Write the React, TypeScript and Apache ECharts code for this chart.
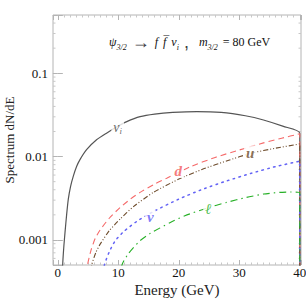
import React, { useEffect, useRef } from "react";
import * as echarts from "echarts";

// Energies (GeV) and spectra dN/dE
const NUI_E = [0.7, 0.8, 1.0, 1.19, 1.45, 1.73, 2.1, 2.56, 3.1, 3.66, 4.75, 6.4, 8.05, 9.7, 11.4, 13.6, 16, 19, 23, 27, 31, 34, 37.3, 40, 40];
const NUI_V = [0.0002, 0.0005, 0.00085, 0.00124, 0.002, 0.00308, 0.00437, 0.00583, 0.0076, 0.0092, 0.0121, 0.0159, 0.0191, 0.0226, 0.0263, 0.0302, 0.0324, 0.0339, 0.0347, 0.0339, 0.0309, 0.0275, 0.023, 0.0191, 0.00001];

const D_E = [4.6, 4.9, 5.5, 6.2, 7, 8.5, 10.3, 12, 13.6, 16, 18, 22, 26, 30, 34, 37, 40, 40];
const D_V = [0.0003, 0.0005, 0.00076, 0.00105, 0.00132, 0.00182, 0.00245, 0.00309, 0.00372, 0.00468, 0.0055, 0.00759, 0.00977, 0.012, 0.0146, 0.0166, 0.0188, 0.00001];

const U_E = [5.3, 5.6, 6.3, 7, 8.5, 10.3, 12.5, 15.8, 20, 24, 28, 32, 36, 40, 40];
const U_V = [0.0003, 0.0005, 0.00071, 0.00089, 0.00129, 0.00178, 0.00251, 0.00372, 0.00537, 0.00708, 0.00891, 0.011, 0.0126, 0.0142, 0.00001];

const NU_E = [7.4, 7.7, 8.5, 9.5, 10.9, 13, 15.8, 20, 24, 28, 32, 36, 40, 40];
const NU_V = [0.0003, 0.0005, 0.00072, 0.00098, 0.00126, 0.00166, 0.00219, 0.00309, 0.00407, 0.00513, 0.00631, 0.00759, 0.0088, 0.00001];

const L_E = [10.3, 10.6, 11.5, 12.5, 13.6, 15.3, 18.6, 21, 24.6, 27.9, 31.2, 34, 36.7, 38.5, 40, 40];
const L_V = [0.0003, 0.0005, 0.00066, 0.00081, 0.00098, 0.0012, 0.00162, 0.00195, 0.0024, 0.00282, 0.00324, 0.00355, 0.00372, 0.00376, 0.00367, 0.00001];

// curve labels
const LABEL_E = [9.9, 19.9, 31.8, 15.3, 24.9];
const LABEL_V = [0.0221, 0.0068, 0.0111, 0.00186, 0.00234];
const LABEL_TEXT = ["{nu|ν}{sub|i}", "{d|d}", "{u|u}", "{v|ν}", "{l|ℓ}"];

const X_MIN = -0.8;
const X_MAX = 40.2;
const Y_MIN = 0.0005;
const Y_MAX = 0.5;

const MINOR_Y: number[] = [];
for (let n = -4; n <= -1; n++) {
  for (let k = 2; k <= 9; k++) {
    const v = k * Math.pow(10, n);
    if (v > Y_MIN && v < Y_MAX) MINOR_Y.push(v);
  }
}

const SERIF = "'Liberation Serif', 'DejaVu Serif', serif";
const FRAME = "#b4b4b4";

function pairs(xs: number[], ys: number[]) {
  return xs.map((x, i) => [x, ys[i]]);
}

export default function App() {
  const ref = useRef<HTMLDivElement>(null);

  useEffect(() => {
    if (!ref.current) return;
    const chart = echarts.init(ref.current, null, { renderer: "svg" });

    const lineBase = {
      type: "line",
      showSymbol: false,
      symbol: "none",
      smooth: 0.2,
      clip: true,
      z: 3,
    };

    const labelRich = {
      nu: { fontFamily: SERIF, fontStyle: "italic", fontWeight: "normal", fontSize: 14, color: "#444" },
      sub: { fontFamily: SERIF, fontStyle: "italic", fontWeight: "normal", fontSize: 9, color: "#444", verticalAlign: "bottom", padding: [6, 0, 0, 0] },
      d: { fontFamily: SERIF, fontStyle: "italic", fontWeight: "bold", fontSize: 15, color: "#f25a5a" },
      u: { fontFamily: SERIF, fontStyle: "italic", fontWeight: "bold", fontSize: 15, color: "#6e4c2c" },
      v: { fontFamily: SERIF, fontStyle: "italic", fontWeight: "bold", fontSize: 15, color: "#5a5af5" },
      l: { fontFamily: SERIF, fontStyle: "italic", fontWeight: "bold", fontSize: 15, color: "#27b027" },
    };

    chart.setOption({
      animation: false,
      backgroundColor: "#ffffff",
      title: {
        left: 104,
        top: 28,
        text: "{i|ψ}{s|3/2} → {i|f} {i|f̅} {i|ν}{s|i} ,  {i|m}{s|3/2} {r|= 80 GeV}",
        textStyle: {
          fontWeight: "normal",
          rich: {
            i: { fontFamily: SERIF, fontStyle: "italic", fontWeight: "normal", fontSize: 12, color: "#111", lineHeight: 16 },
            r: { fontFamily: SERIF, fontWeight: "normal", fontSize: 12, color: "#111", lineHeight: 16 },
            s: { fontFamily: SERIF, fontStyle: "italic", fontWeight: "normal", fontSize: 8, color: "#111", verticalAlign: "bottom", lineHeight: 16, padding: [7, 0, 0, 0] },
          },
        },
      },
      grid: {
        left: 53,
        right: 5,
        top: 15,
        bottom: 35,
        show: true,
        borderColor: FRAME,
        borderWidth: 1,
        backgroundColor: "#fff",
        containLabel: false,
        outerBoundsMode: "none",
      },
      xAxis: [
        {
          type: "value",
          min: X_MIN,
          max: X_MAX,
          name: "Energy (GeV)",
          nameLocation: "middle",
          nameGap: 17,
          nameMoveOverlap: false,
          nameTextStyle: { fontFamily: SERIF, fontWeight: "normal", fontSize: 15, color: "#222" },
          axisLine: { show: false },
          splitLine: { show: false },
          axisTick: { show: true, inside: true, length: 5, lineStyle: { color: FRAME } },
          minorTick: { show: true, splitNumber: 10, length: 2.5, lineStyle: { color: "#c8c8c8" } },
          axisLabel: {
            margin: 1,
            fontFamily: SERIF,
            fontSize: 13,
            color: "#111",
            formatter: (v: number) => (Math.abs(v / 10 - Math.round(v / 10)) < 1e-6 ? String(Math.round(v)) : ""),
          },
        },
        {
          type: "value",
          position: "top",
          min: X_MIN,
          max: X_MAX,
          axisLine: { show: false },
          splitLine: { show: false },
          axisTick: { show: true, inside: true, length: 5, lineStyle: { color: FRAME } },
          minorTick: { show: true, splitNumber: 10, length: 2.5, lineStyle: { color: "#c8c8c8" } },
          axisLabel: { show: false },
        },
      ],
      yAxis: [
        {
          type: "log",
          logBase: 10,
          min: Y_MIN,
          max: Y_MAX,
          name: "Spectrum dN/dE",
          nameLocation: "middle",
          nameGap: 37,
          nameMoveOverlap: false,
          nameTextStyle: { fontFamily: SERIF, fontWeight: "normal", fontSize: 13, color: "#222" },
          axisLine: { show: false },
          splitLine: { show: false },
          axisTick: { show: true, inside: true, length: 5, lineStyle: { color: FRAME } },
          axisLabel: {
            margin: 5,
            fontFamily: SERIF,
            fontSize: 13,
            color: "#111",
            formatter: (v: number) => {
              const l = Math.log10(v);
              if (Math.abs(l - Math.round(l)) > 1e-6) return "";
              return String(Number(Math.pow(10, Math.round(l)).toPrecision(1)));
            },
          },
        },
        {
          type: "log",
          logBase: 10,
          position: "right",
          min: Y_MIN,
          max: Y_MAX,
          axisLine: { show: false },
          splitLine: { show: false },
          axisTick: { show: true, inside: true, length: 5, lineStyle: { color: FRAME } },
          axisLabel: { show: false },
        },
      ],
      series: [
        {
          type: "custom",
          silent: true,
          z: 1,
          data: MINOR_Y.map((v) => [X_MIN, v]),
          encode: { x: 0, y: 1 },
          renderItem: (params: any, api: any) => {
            const v = api.value(1);
            const pl = api.coord([X_MIN, v]);
            const pr = api.coord([X_MAX, v]);
            return {
              type: "group",
              children: [
                { type: "line", shape: { x1: pl[0], y1: pl[1], x2: pl[0] + 2.5, y2: pl[1] }, style: { stroke: "#c8c8c8", lineWidth: 1 } },
                { type: "line", shape: { x1: pr[0], y1: pr[1], x2: pr[0] - 2.5, y2: pr[1] }, style: { stroke: "#c8c8c8", lineWidth: 1 } },
              ],
            };
          },
        },
        {
          ...lineBase,
          name: "nu_i",
          data: pairs(NUI_E, NUI_V),
          lineStyle: { color: "#555555", width: 1.2, type: "solid" },
        },
        {
          ...lineBase,
          name: "d",
          data: pairs(D_E, D_V),
          lineStyle: { color: "#f56a6a", width: 1.1, type: [6, 4] },
        },
        {
          ...lineBase,
          name: "u",
          data: pairs(U_E, U_V),
          lineStyle: { color: "#6e4c2c", width: 1.1, type: [5, 2, 1, 2, 1, 2] },
        },
        {
          ...lineBase,
          name: "nu",
          data: pairs(NU_E, NU_V),
          lineStyle: { color: "#6262f5", width: 1.5, type: [1.5, 4.5], cap: "round" },
        },
        {
          ...lineBase,
          name: "l",
          data: pairs(L_E, L_V),
          lineStyle: { color: "#27b027", width: 1.1, type: [7, 4, 1.5, 4] },
        },
        {
          type: "scatter",
          name: "labels",
          symbolSize: 0,
          z: 10,
          silent: true,
          data: LABEL_E.map((e, i) => ({ value: [e, LABEL_V[i]] })),
          label: {
            show: true,
            position: "inside",
            backgroundColor: "#ffffff",
            padding: [0, 2],
            formatter: (p: any) => LABEL_TEXT[p.dataIndex],
            rich: labelRich,
          },
        },
      ],
    });

    return () => chart.dispose();
  }, []);

  return <div ref={ref} style={{ position: "absolute", left: 0, top: 0, width: 306, height: 300 }} />;
}
